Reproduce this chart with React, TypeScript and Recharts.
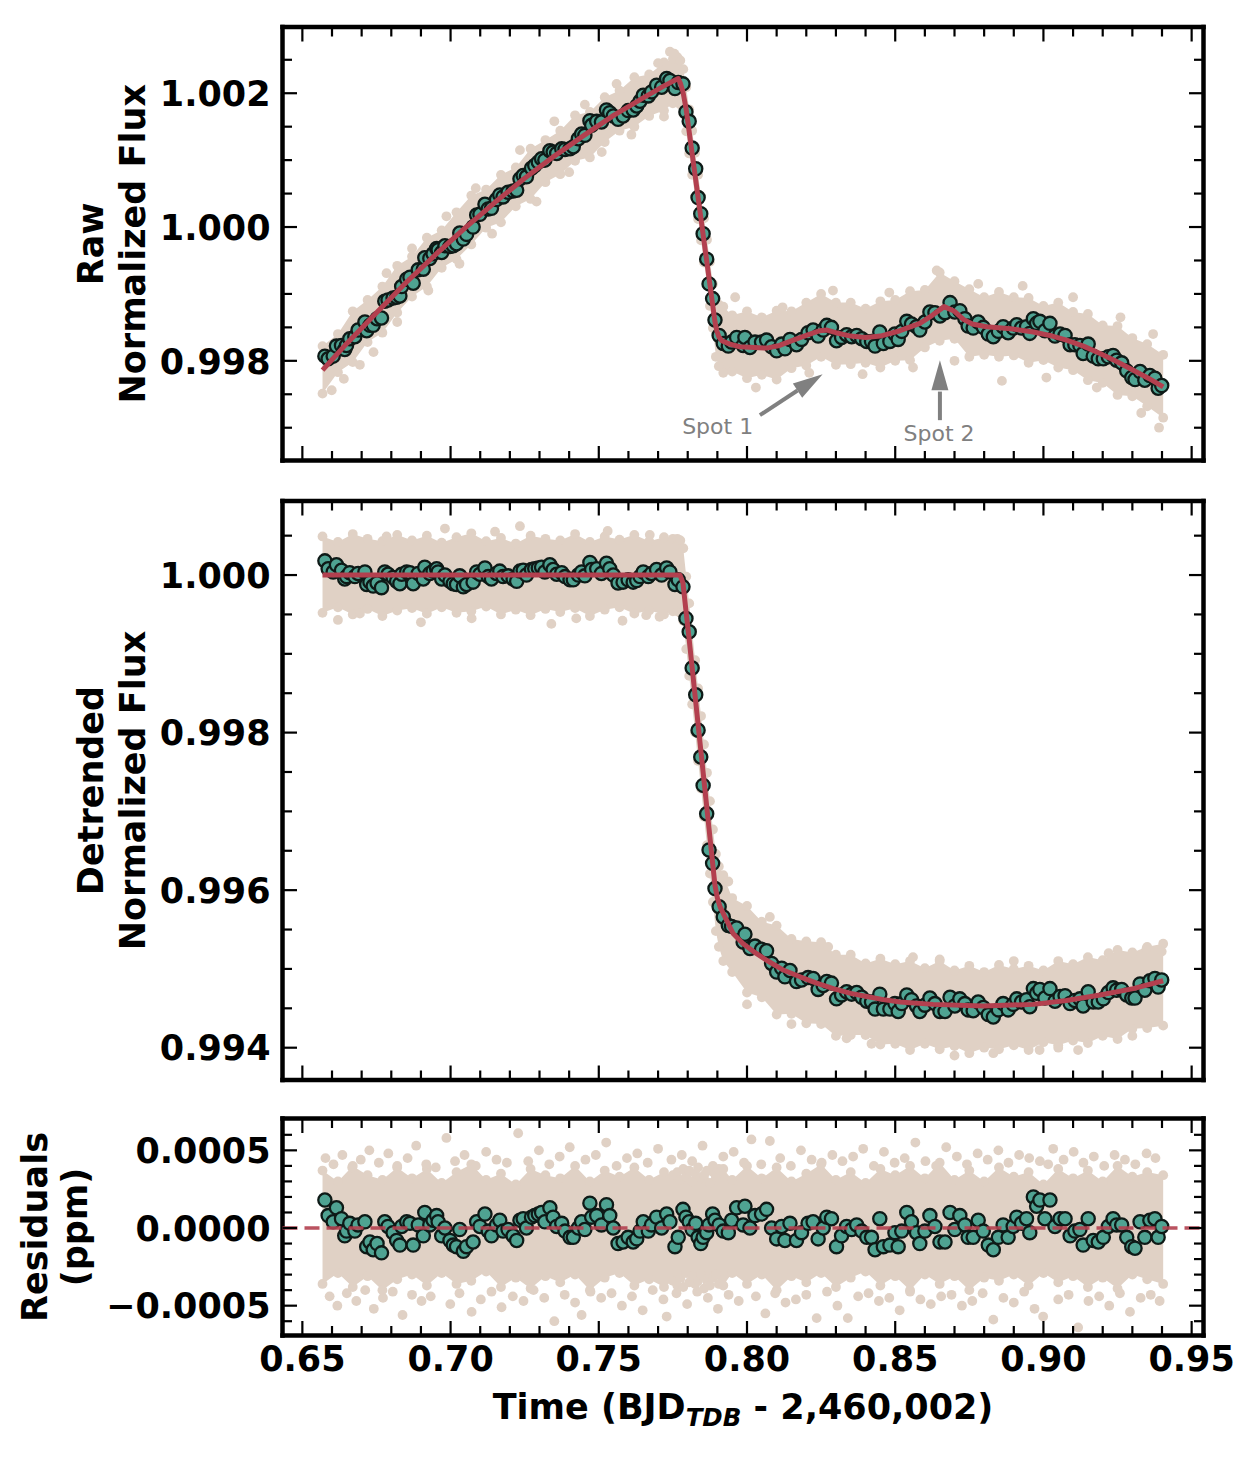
import React from 'react';
import { ComposedChart, XAxis, YAxis, Scatter, Line, Area, ReferenceLine, ReferenceDot } from 'recharts';

const FONT = '"DejaVu Sans", Verdana, sans-serif';
const BEIGE = '#e0d1c5';
const TEAL = '#4fa392';
const EDGE = '#0e1a17';
const RED = '#b3404f';
const GREY = '#808080';

// ---------- axes ----------
const X_DOMAIN: [number, number] = [0.6433, 0.954];
const xMajor = [0.65, 0.7, 0.75, 0.8, 0.85, 0.9, 0.95];
const xMinor = [0.66, 0.67, 0.68, 0.69, 0.71, 0.72, 0.73, 0.74, 0.76, 0.77, 0.78, 0.79, 0.81, 0.82, 0.83, 0.84, 0.86, 0.87, 0.88, 0.89, 0.91, 0.92, 0.93, 0.94];

const topDomain: [number, number] = [0.99651, 1.00299];
const topMajor = [0.998, 1.0, 1.002];
const topMinor = [0.997, 0.9975, 0.9985, 0.999, 0.9995, 1.0005, 1.001, 1.0015, 1.0025];

const midDomain: [number, number] = [0.99359, 1.00094];
const midMajor = [0.994, 0.996, 0.998, 1.0];
const midMinor = [0.9945, 0.995, 0.9955, 0.9965, 0.997, 0.9975, 0.9985, 0.999, 0.9995, 1.0005];

const resDomain: [number, number] = [-0.000692, 0.000705];
const resMajor = [-0.0005, 0, 0.0005];
const resMinor = [-0.0006, -0.0004, -0.0003, -0.0002, -0.0001, 0.0001, 0.0002, 0.0003, 0.0004, 0.0006];

// ---------- binned (teal) data ----------
const tealT = [
  0.6576, 0.6587, 0.6604, 0.6615, 0.6632, 0.6643, 0.6649, 0.666, 0.6677, 0.6688,
  0.6711, 0.6717, 0.6728, 0.6739, 0.6752, 0.6767, 0.6778, 0.6789, 0.6806, 0.6818,
  0.6829, 0.6835, 0.6852, 0.6863, 0.6874, 0.6891, 0.6908, 0.6913, 0.693, 0.6941,
  0.6953, 0.6958, 0.697, 0.6981, 0.6998, 0.7009, 0.702, 0.7031, 0.7043, 0.7054,
  0.7076, 0.7088, 0.7099, 0.7116, 0.7127, 0.7138, 0.7155, 0.7166, 0.7177, 0.7194,
  0.7211, 0.7223, 0.7234, 0.7245, 0.7256, 0.7273, 0.7284, 0.7296, 0.7307, 0.7318,
  0.7335, 0.7346, 0.7358, 0.7375, 0.7386, 0.7403, 0.7414, 0.7431, 0.7442, 0.7453,
  0.747, 0.7476, 0.7493, 0.7509, 0.7526, 0.7537, 0.7549, 0.7565, 0.7582, 0.7599,
  0.7616, 0.7628, 0.7639, 0.765, 0.7667, 0.7678, 0.7695, 0.7712, 0.7729, 0.774,
  0.7757, 0.7768, 0.7784, 0.7794, 0.7805, 0.7815, 0.7827, 0.7835, 0.7844, 0.7852,
  0.7864, 0.7872, 0.7884, 0.7892, 0.7906, 0.792, 0.7937, 0.7948, 0.7965, 0.7987,
  0.7993, 0.801, 0.8027, 0.8049, 0.8066, 0.8083, 0.81, 0.8117, 0.8128, 0.8145,
  0.8167, 0.8184, 0.8206, 0.8223, 0.824, 0.8257, 0.8269, 0.8285, 0.8302, 0.8319,
  0.8336, 0.8353, 0.837, 0.8387, 0.8404, 0.842, 0.8432, 0.8448, 0.846, 0.8482,
  0.8499, 0.851, 0.8522, 0.8539, 0.8555, 0.8572, 0.8583, 0.86, 0.8617, 0.8634,
  0.8651, 0.8668, 0.8685, 0.8701, 0.8718, 0.8735, 0.8746, 0.8763, 0.878, 0.8797,
  0.8814, 0.8831, 0.8848, 0.8864, 0.8881, 0.8898, 0.891, 0.8926, 0.8943, 0.8954,
  0.8966, 0.8977, 0.8988, 0.9005, 0.9022, 0.9039, 0.9056, 0.9073, 0.909, 0.9106,
  0.9123, 0.9134, 0.9151, 0.9168, 0.9185, 0.9202, 0.9219, 0.9235, 0.9247, 0.9264,
  0.9281, 0.9298, 0.9309, 0.9326, 0.9342, 0.9359, 0.9376, 0.9387, 0.9399,
];

const tealRaw = [
  0.99807, 0.99803, 0.99807, 0.99822, 0.99823, 0.99817, 0.99823, 0.99833, 0.99836, 0.99846,
  0.99858, 0.99845, 0.99853, 0.99853, 0.99863, 0.99864, 0.99889, 0.99891, 0.99894, 0.99895,
  0.99897, 0.99911, 0.99922, 0.99925, 0.99916, 0.99936, 0.99937, 0.99954, 0.99953, 0.9996,
  0.99968, 0.99966, 0.99962, 0.99972, 0.99971, 0.99972, 0.99975, 0.99991, 0.99982, 0.99989,
  1.0, 1.00018, 1.00019, 1.00034, 1.00027, 1.00028, 1.00041, 1.00048, 1.00045, 1.00052,
  1.00054, 1.00055, 1.00072, 1.00077, 1.00075, 1.00088, 1.00092, 1.00097, 1.00102, 1.001,
  1.00114, 1.00112, 1.0011, 1.00117, 1.00116, 1.00117, 1.0012, 1.00132, 1.00139, 1.00137,
  1.00159, 1.00152, 1.00158, 1.00157, 1.00175, 1.00171, 1.00166, 1.00161, 1.00166, 1.00174,
  1.00175, 1.00181, 1.00188, 1.00197, 1.00196, 1.00202, 1.00212, 1.00209, 1.00222, 1.00219,
  1.00207, 1.00216, 1.00214, 1.00172, 1.00158, 1.00118, 1.00087, 1.00044, 1.0002, 0.9999,
  0.99952, 0.99915, 0.99893, 0.99861, 0.99838, 0.99826, 0.99822, 0.99828, 0.99835, 0.99823,
  0.99835, 0.9982, 0.99828, 0.99828, 0.99831, 0.99821, 0.99815, 0.99825, 0.99818, 0.99832,
  0.99824, 0.99832, 0.99842, 0.99846, 0.99837, 0.99846, 0.99853, 0.9985, 0.9983, 0.99835,
  0.99839, 0.99836, 0.99838, 0.99833, 0.99829, 0.99829, 0.99822, 0.99843, 0.99826, 0.99829,
  0.9984, 0.99832, 0.99844, 0.99859, 0.99855, 0.99851, 0.99846, 0.99858, 0.99873, 0.99872,
  0.99867, 0.99872, 0.99887, 0.99873, 0.99875, 0.99863, 0.99852, 0.99849, 0.99858, 0.9985,
  0.9984, 0.99836, 0.99844, 0.99851, 0.99842, 0.99849, 0.99854, 0.99849, 0.99851, 0.99841,
  0.99863, 0.99856, 0.99859, 0.99845, 0.99856, 0.99837, 0.9984, 0.99838, 0.99824, 0.99824,
  0.99823, 0.99811, 0.99825, 0.99807, 0.99803, 0.99803, 0.99806, 0.99808, 0.99801, 0.99797,
  0.99785, 0.99775, 0.99772, 0.99784, 0.99771, 0.99778, 0.99774, 0.99759, 0.99763,
];

const tealDet = [
  1.00018, 1.00008, 1.00004, 1.00013, 1.00006, 0.99995, 0.99998, 1.00003, 0.99998, 1.00002,
  1.00004, 0.99988, 0.99991, 0.99986, 0.9999, 0.99984, 1.00004, 1.00001, 0.99997, 0.99992,
  0.99989, 1.00001, 1.00004, 1.00003, 0.99989, 1.00002, 0.99995, 1.0001, 1.00002, 1.00005,
  1.00008, 1.00004, 0.99995, 1.0, 0.99992, 0.99989, 0.99988, 0.99999, 0.99985, 0.99988,
  0.99991, 1.00004, 1.00001, 1.00009, 0.99998, 0.99995, 1.00002, 1.00005, 0.99998, 0.99999,
  0.99995, 0.99992, 1.00005, 1.00006, 1.0, 1.00007, 1.00008, 1.00009, 1.0001, 1.00004,
  1.00013, 1.00007, 1.00001, 1.00003, 0.99998, 0.99994, 0.99994, 1.0, 1.00004, 0.99999,
  1.00016, 1.00007, 1.00008, 1.00002, 1.00015, 1.00008, 1.0, 0.9999, 0.99991, 0.99994,
  0.99991, 0.99993, 0.99998, 1.00004, 0.99998, 1.00002, 1.00007, 1.0, 1.00009, 1.00004,
  0.99988, 0.99994, 0.99985, 0.99945, 0.99928, 0.99882, 0.99848, 0.99803, 0.99769, 0.99733,
  0.99697, 0.99651, 0.99634, 0.99602, 0.99579, 0.99566, 0.99555, 0.99554, 0.99552, 0.99534,
  0.99544, 0.99526, 0.99529, 0.99525, 0.99523, 0.99507, 0.99496, 0.99501, 0.9949, 0.99498,
  0.99484, 0.99486, 0.99489, 0.99488, 0.99474, 0.99479, 0.99484, 0.99482, 0.99462, 0.99467,
  0.99471, 0.99468, 0.9947, 0.99464, 0.99459, 0.99458, 0.99449, 0.99468, 0.99449, 0.99449,
  0.99456, 0.99446, 0.99456, 0.99467, 0.99461, 0.99453, 0.99446, 0.99454, 0.99463, 0.99456,
  0.99446, 0.99446, 0.99464, 0.99453, 0.99462, 0.99456, 0.99448, 0.99447, 0.99458, 0.99451,
  0.99442, 0.99439, 0.99448, 0.99456, 0.99448, 0.99455, 0.99462, 0.99458, 0.99461, 0.99452,
  0.99475, 0.99469, 0.99474, 0.99463, 0.99475, 0.99459, 0.99465, 0.99466, 0.99456, 0.9946,
  0.99462, 0.99453, 0.99471, 0.99458, 0.99458, 0.99462, 0.9947, 0.99476, 0.99473, 0.99474,
  0.99467, 0.99463, 0.99463, 0.99481, 0.99473, 0.99485, 0.99488, 0.99477, 0.99486,
];

const tealRes = [
  0.00018, 0.00008, 0.00004, 0.00013, 0.00006, -0.00005, -0.00002, 0.00003, -0.00002, 0.00002,
  0.00004, -0.00012, -0.00009, -0.00014, -0.0001, -0.00016, 0.00004, 0.00001, -0.00003, -0.00008,
  -0.00011, 0.00001, 0.00004, 0.00003, -0.00011, 0.00002, -0.00005, 0.0001, 0.00002, 0.00005,
  0.00008, 0.00004, -0.00005, 0.0, -0.00008, -0.00011, -0.00012, -0.00001, -0.00015, -0.00012,
  -0.00009, 0.00004, 0.00001, 0.00009, -0.00002, -0.00005, 0.00002, 0.00005, -0.00002, -0.00001,
  -0.00005, -0.00008, 0.00005, 0.00006, 0.0, 0.00007, 0.00008, 0.00009, 0.0001, 0.00004,
  0.00013, 0.00007, 0.00001, 0.00003, -0.00002, -0.00006, -0.00006, 0.0, 0.00004, -0.00001,
  0.00016, 0.00007, 0.00008, 0.00002, 0.00015, 0.00008, 0.0, -0.0001, -0.00009, -0.00006,
  -0.00009, -0.00007, -0.00002, 0.00004, -0.00002, 0.00002, 0.00007, 0.0, 0.00009, 0.00004,
  -0.00012, -0.00006, 0.00012, 0.00007, 0.00004, -0.00001, 0.00003, -0.00006, -0.0001, -0.00006,
  -0.00003, 0.00002, 0.00009, 0.00005, 0.00002, -0.00002, -0.00003, 0.00005, 0.00013, 0.00002,
  0.00014, 0.0, 0.00008, 0.00009, 0.00012, 0.0, -0.00007, 0.00001, -0.00008, 0.00003,
  -0.00008, -0.00003, 0.00003, 0.00004, -0.00007, 0.0, 0.00007, 0.00006, -0.00012, -0.00005,
  0.00001, -0.00001, 0.00002, -0.00002, -0.00006, -0.00006, -0.00014, 0.00006, -0.00012, -0.00011,
  -0.00003, -0.00012, -0.00002, 0.0001, 0.00004, -0.00003, -0.0001, -0.00002, 0.00008, 0.00001,
  -0.00009, -0.00009, 0.0001, -0.00001, 0.00008, 0.00002, -0.00006, -0.00006, 0.00005, -0.00002,
  -0.00011, -0.00014, -0.00006, 0.00002, -0.00006, 0.00001, 0.00007, 0.00003, 0.00006, -0.00003,
  0.0002, 0.00014, 0.00018, 0.00006, 0.00018, 0.00001, 0.00006, 0.00006, -0.00005, -0.00002,
  -0.00001, -0.00011, 0.00006, -0.00008, -0.00009, -0.00006, 0.00001, 0.00006, 0.00002, 0.00002,
  -0.00006, -0.00012, -0.00013, 0.00004, -0.00006, 0.00005, 0.00006, -0.00006, 0.00001,
];

// ---------- unbinned (beige) cloud: envelope ----------
const bandT = [
  0.6568, 0.662, 0.667, 0.672, 0.677, 0.682, 0.687, 0.692, 0.697, 0.702,
  0.707, 0.712, 0.717, 0.722, 0.727, 0.732, 0.737, 0.742, 0.747, 0.752,
  0.757, 0.762, 0.767, 0.772, 0.775,
  0.7765, 0.7775, 0.7785, 0.7795, 0.7805, 0.7815, 0.7825, 0.7835, 0.7845, 0.7855, 0.7865, 0.7875, 0.7885, 0.7895, 0.7905,
  0.792, 0.795, 0.8, 0.805, 0.81, 0.815, 0.82, 0.825, 0.83, 0.835,
  0.84, 0.845, 0.85, 0.855, 0.86, 0.865, 0.87, 0.875, 0.88, 0.885,
  0.89, 0.895, 0.9, 0.905, 0.91, 0.915, 0.92, 0.925, 0.93, 0.935, 0.9404,
];

const topHi = [
  0.99822, 0.9984, 0.99874, 0.99891, 0.99911, 0.99942, 0.99956, 0.99984, 0.99995, 1.00022,
  1.00047, 1.00056, 1.00078, 1.00089, 1.00117, 1.0013, 1.00144, 1.00167, 1.00172, 1.00194,
  1.00204, 1.00224, 1.00228, 1.00246, 1.00251,
  1.00254, 1.00249, 1.00236, 1.00209, 1.00176, 1.00144, 1.00111, 1.00078, 1.00046, 1.00013, 0.99981, 0.99948, 0.99915, 0.9989, 0.99884,
  0.99881, 0.99868, 0.99874, 0.99865, 0.99875, 0.99874, 0.99887, 0.999, 0.99887, 0.99887,
  0.99878, 0.99889, 0.99891, 0.99904, 0.99906, 0.99932, 0.99919, 0.99907, 0.99895, 0.99903,
  0.99895, 0.99894, 0.99882, 0.99887, 0.99873, 0.9987, 0.99853, 0.99852, 0.99834, 0.99825, 0.99809,
];
const topLo = [
  0.99751, 0.99783, 0.99798, 0.99828, 0.99842, 0.99872, 0.99896, 0.99911, 0.99939, 0.99952,
  0.99974, 0.99999, 1.00007, 1.00031, 1.00042, 1.00067, 1.00079, 1.00099, 1.00104, 1.00127,
  1.00144, 1.0015, 1.00166, 1.00174, 1.00185,
  1.00188, 1.00183, 1.0017, 1.00143, 1.0011, 1.00078, 1.00045, 1.00012, 0.9998, 0.99947, 0.99915, 0.99882, 0.99849, 0.99806, 0.99792,
  0.99782, 0.99784, 0.99774, 0.99779, 0.99772, 0.99789, 0.99793, 0.99806, 0.99794, 0.99795,
  0.99797, 0.9979, 0.998, 0.99801, 0.9982, 0.9983, 0.99833, 0.99806, 0.99809, 0.99806,
  0.99808, 0.99797, 0.99801, 0.9979, 0.99786, 0.99771, 0.99767, 0.99749, 0.99747, 0.99732, 0.99715,
];

const midHi = [
  1.00049, 1.00042, 1.00052, 1.00046, 1.00043, 1.00051, 1.00044, 1.0005, 1.00041, 1.00048,
  1.00053, 1.00043, 1.00047, 1.0004, 1.0005, 1.00046, 1.00044, 1.00052, 1.00042, 1.00049,
  1.00045, 1.00051, 1.00043, 1.00048, 1.00046,
  1.00046, 1.00044, 1.00034, 0.99998, 0.99964, 0.99928, 0.99892, 0.99856, 0.99821, 0.99785, 0.99749, 0.99713, 0.99677, 0.99646, 0.9963,
  0.99619, 0.9959, 0.9958, 0.9956, 0.99555, 0.99538, 0.99535, 0.99534, 0.99518, 0.99518,
  0.99507, 0.99513, 0.99506, 0.9951, 0.99501, 0.9951, 0.99498, 0.99504, 0.99496, 0.99505,
  0.995, 0.99504, 0.99498, 0.9951, 0.99506, 0.99515, 0.99511, 0.99524, 0.99521, 0.99528, 0.99532,
];
const midLo = [
  0.99952, 0.99959, 0.9995, 0.99957, 0.99948, 0.99955, 0.99958, 0.99951, 0.99959, 0.99952,
  0.99954, 0.9996, 0.9995, 0.99956, 0.99949, 0.99957, 0.99953, 0.99958, 0.99948, 0.99956,
  0.99959, 0.99951, 0.99955, 0.9995, 0.99954,
  0.99954, 0.99952, 0.99942, 0.99906, 0.99872, 0.99836, 0.998, 0.99764, 0.99729, 0.99693, 0.99657, 0.99621, 0.99585, 0.99548, 0.99528,
  0.9951, 0.99496, 0.9947, 0.99464, 0.99442, 0.99443, 0.99431, 0.9943, 0.99415, 0.99416,
  0.99416, 0.99404, 0.99405, 0.99397, 0.99405, 0.99398, 0.99402, 0.99393, 0.994, 0.99398,
  0.99403, 0.99397, 0.99407, 0.99403, 0.99409, 0.99406, 0.99415, 0.99411, 0.99424, 0.99425, 0.99428,
];

const resHi = [
  0.00037, 0.0003, 0.0004, 0.00034, 0.00031, 0.00039, 0.00032, 0.00038, 0.00029, 0.00036,
  0.00041, 0.00031, 0.00035, 0.00028, 0.00038, 0.00034, 0.00032, 0.0004, 0.0003, 0.00037,
  0.00033, 0.00039, 0.00031, 0.00036, 0.00034,
  0.00036, 0.00031, 0.00038, 0.00033, 0.00037, 0.0003, 0.00035, 0.00039, 0.00032, 0.00034, 0.00037, 0.00029, 0.00036, 0.00033, 0.00038,
  0.00038, 0.00031, 0.0004, 0.00032, 0.00039, 0.0003, 0.00035, 0.00041, 0.00031, 0.00036,
  0.00029, 0.00038, 0.00034, 0.0004, 0.00032, 0.00042, 0.00031, 0.00037, 0.0003, 0.00039,
  0.00033, 0.00036, 0.00028, 0.00038, 0.00032, 0.00037, 0.0003, 0.0004, 0.00033, 0.00036, 0.00034,
];
const resLo = [
  -0.00036, -0.00029, -0.00038, -0.00031, -0.0004, -0.00033, -0.0003, -0.00037, -0.00029, -0.00036,
  -0.00034, -0.00028, -0.00038, -0.00032, -0.00039, -0.00031, -0.00035, -0.0003, -0.0004, -0.00032,
  -0.00029, -0.00037, -0.00033, -0.00038, -0.00034,
  -0.00037, -0.00032, -0.00038, -0.00029, -0.00035, -0.00031, -0.00036, -0.00034, -0.0003, -0.00039, -0.00033, -0.00037, -0.00032, -0.0003, -0.00036,
  -0.00037, -0.00029, -0.00036, -0.0003, -0.0004, -0.00031, -0.00035, -0.00029, -0.00038, -0.00032,
  -0.00028, -0.00037, -0.00031, -0.0004, -0.0003, -0.00036, -0.00031, -0.0004, -0.00032, -0.00034,
  -0.0003, -0.00037, -0.00029, -0.00035, -0.00031, -0.00038, -0.00032, -0.00039, -0.0003, -0.00033, -0.00036,
];

// scattered beige points beyond the dense cloud
const topOutT = [0.6599, 0.664, 0.6694, 0.674, 0.6784, 0.682, 0.687, 0.6925, 0.6986, 0.703, 0.7085, 0.714, 0.7234, 0.729, 0.735, 0.74, 0.7453, 0.751, 0.756, 0.761, 0.77, 0.774, 0.7755, 0.772, 0.796, 0.803, 0.812, 0.821, 0.829, 0.839, 0.848, 0.856, 0.864, 0.87, 0.878, 0.886, 0.893, 0.901, 0.91, 0.918, 0.926, 0.933, 0.939, 0.937];
const topOutF = [0.99756, 0.99773, 0.99794, 0.99813, 0.99931, 0.99858, 0.99968, 0.99905, 1.00016, 0.99945, 1.00058, 0.9999, 1.00115, 1.00038, 1.00158, 1.00082, 1.00183, 1.00112, 1.00214, 1.00138, 1.00245, 1.00262, 1.00259, 1.00165, 0.99895, 0.9976, 0.9988, 0.99782, 0.99905, 0.9978, 0.99902, 0.9979, 0.99935, 0.998, 0.99915, 0.9977, 0.99912, 0.99775, 0.99895, 0.9976, 0.99865, 0.99722, 0.997, 0.9984];

const midOutT = [0.6784, 0.6981, 0.7234, 0.7071, 0.7424, 0.6694, 0.7672, 0.766, 0.7705, 0.662, 0.69, 0.715, 0.734, 0.753, 0.758, 0.8831, 0.8987, 0.9117, 0.8336, 0.842, 0.9348, 0.9399, 0.7937, 0.8077, 0.8274, 0.815, 0.856, 0.87, 0.89, 0.905, 0.922, 0.93, 0.8, 0.865];
const midOutF = [1.00049, 1.00059, 1.00062, 0.99945, 0.99945, 0.99951, 1.00051, 0.99949, 0.99947, 0.99943, 0.9994, 1.00055, 0.99938, 1.00056, 0.99942, 0.99393, 0.99397, 0.99397, 0.99412, 0.99405, 0.99526, 0.99522, 0.99611, 0.99566, 0.99528, 0.9943, 0.99515, 0.9939, 0.9951, 0.994, 0.9952, 0.99415, 0.99455, 0.99512];

const resOutT = [
  0.6578, 0.6592, 0.6605, 0.6618, 0.6635, 0.665, 0.6668, 0.6682, 0.6697, 0.6712, 0.6726, 0.6741, 0.6758, 0.6772, 0.679, 0.6805, 0.682, 0.6838, 0.6855, 0.687,
  0.6884, 0.6902, 0.6918, 0.6933, 0.695, 0.6986, 0.6999, 0.7015, 0.703, 0.7047, 0.7071, 0.7085, 0.7102, 0.712, 0.7138, 0.7155, 0.7172, 0.719, 0.721, 0.7228,
  0.7246, 0.7262, 0.728, 0.7298, 0.7316, 0.7333, 0.735, 0.7368, 0.7385, 0.7402, 0.742, 0.7442, 0.7455, 0.7472, 0.749, 0.7508, 0.7525, 0.7543, 0.756, 0.7578,
  0.7595, 0.7612, 0.763, 0.7648, 0.7665, 0.7682, 0.77, 0.7718, 0.7729, 0.7745, 0.7762, 0.778, 0.7798, 0.7815, 0.7832, 0.785, 0.7868, 0.7885, 0.7902, 0.792,
  0.7938, 0.7955, 0.7972, 0.799, 0.8015, 0.803, 0.8048, 0.8062, 0.8077, 0.8095, 0.8112, 0.813, 0.8148, 0.8165, 0.8182, 0.82, 0.8218, 0.8235, 0.8252, 0.827,
  0.8288, 0.8305, 0.8322, 0.834, 0.8358, 0.8375, 0.8392, 0.841, 0.8428, 0.8445, 0.8462, 0.848, 0.8498, 0.8515, 0.8532, 0.855, 0.8568, 0.8585, 0.8602, 0.862,
  0.8638, 0.8655, 0.8672, 0.869, 0.8708, 0.8725, 0.8742, 0.876, 0.8778, 0.8795, 0.8812, 0.8831, 0.8848, 0.8865, 0.8882, 0.89, 0.8918, 0.8935, 0.8952, 0.897,
  0.8988, 0.8999, 0.9016, 0.9033, 0.905, 0.9068, 0.9085, 0.9102, 0.9117, 0.9135, 0.9152, 0.917, 0.9188, 0.9205, 0.9222, 0.924, 0.9258, 0.9275, 0.9292, 0.931,
  0.9328, 0.9348, 0.9362, 0.9378, 0.9392,
];
const resOutV = [
  0.00045, -0.00044, 0.00041, -0.0005, 0.00047, -0.00042, 0.00039, -0.00047, 0.00044, -0.0004, 0.0005, -0.00052, 0.00042, -0.00045, 0.00048, -0.00041, 0.0004, -0.00056, 0.00045, -0.00043,
  0.00053, -0.00047, 0.00041, -0.00044, 0.00039, 0.00058, -0.00049, 0.00043, -0.00042, 0.00047, -0.00054, 0.0004, -0.00046, 0.00049, -0.00041, 0.00044, -0.00051, 0.00042, -0.00044, 0.00061,
  -0.00047, 0.00043, -0.0004, 0.0005, -0.00045, 0.00041, -0.0006, 0.00046, -0.00043, 0.00052, -0.00048, -0.00056, 0.00044, -0.00041, 0.00047, -0.00045, 0.00055, -0.00042, 0.0004, -0.0005,
  0.00045, -0.00044, 0.00048, -0.00053, 0.00042, -0.0004, 0.00051, -0.00046, -0.00057, 0.00044, -0.00042, 0.00047, -0.00049, 0.00043, -0.00041, 0.00053, -0.00045, 0.0004, -0.00052, 0.00046,
  -0.00043, 0.00049, -0.00047, 0.00042, 0.00057, -0.00044, 0.00041, -0.00055, 0.00056, -0.00042, 0.00045, -0.00048, 0.0004, -0.00046, 0.0005, -0.00043, 0.00044, -0.00058, 0.00042, -0.00041,
  0.00047, -0.0005, 0.00043, -0.00058, 0.00046, -0.00044, 0.00051, -0.00042, 0.0004, -0.00047, 0.00049, -0.00045, 0.00042, -0.00053, 0.00045, -0.00041, 0.00055, -0.00046, 0.00043, -0.00049,
  0.0004, -0.00044, 0.00052, -0.00043, 0.00046, -0.0005, 0.00041, -0.00047, 0.00048, -0.00042, 0.00044, -0.00059, 0.0005, -0.00045, 0.00042, -0.00048, 0.00047, -0.00041, 0.00045, -0.00052,
  0.00043, -0.00057, 0.00041, 0.00051, -0.00046, 0.00044, -0.00043, 0.00049, -0.00064, 0.00042, -0.00047, 0.00046, -0.00044, 0.0004, -0.0005, 0.00047, -0.00042, 0.00044, -0.00054, 0.00041,
  -0.00045, 0.00048, -0.00043, 0.00045, -0.00047,
];

// ---------- transit + systematics models ----------
const modelTopT = [0.6568, 0.665, 0.675, 0.685, 0.695, 0.705, 0.715, 0.725, 0.735, 0.745, 0.755, 0.765, 0.772, 0.7768, 0.7776, 0.7784, 0.7794, 0.7892, 0.7898, 0.7905, 0.7915, 0.7942, 0.7976, 0.8066, 0.811, 0.8156, 0.82, 0.8246, 0.827, 0.83, 0.835, 0.84, 0.845, 0.8516, 0.8583, 0.8625, 0.8665, 0.87, 0.873, 0.876, 0.8808, 0.889, 0.8966, 0.903, 0.9078, 0.9135, 0.9191, 0.9247, 0.9303, 0.9354, 0.9404];
const modelTopF = [0.99786, 0.99826, 0.99872, 0.99917, 0.99959, 0.99999, 1.00037, 1.00073, 1.00106, 1.00137, 1.00167, 1.00193, 1.00211, 1.00222, 1.00214, 1.00202, 1.00178, 0.99858, 0.99845, 0.99836, 0.9983, 0.99825, 0.99821, 0.99819, 0.99823, 0.99831, 0.99838, 0.99845, 0.99846, 0.99842, 0.99837, 0.99835, 0.99837, 0.99845, 0.99856, 0.99868, 0.99881, 0.99874, 0.99862, 0.99855, 0.99851, 0.99848, 0.99843, 0.99837, 0.99831, 0.99822, 0.99811, 0.99799, 0.99786, 0.99774, 0.99761];

const modelMidT = [0.6568, 0.7774, 0.7784, 0.7794, 0.7805, 0.7892, 0.79, 0.791, 0.7931, 0.7953, 0.7987, 0.803, 0.8066, 0.812, 0.8179, 0.8235, 0.8291, 0.835, 0.8404, 0.846, 0.8516, 0.8628, 0.8797, 0.8966, 0.9078, 0.9191, 0.9303, 0.9404];
const modelMidF = [1.0, 1.0, 0.9999, 0.99955, 0.99918, 0.99606, 0.9959, 0.99578, 0.99562, 0.99545, 0.99532, 0.9952, 0.99511, 0.99499, 0.9949, 0.99482, 0.99475, 0.99469, 0.99465, 0.99461, 0.99458, 0.99455, 0.99453, 0.99455, 0.9946, 0.99467, 0.99475, 0.99485];

// ---------- helpers ----------
type Pt = { t: number; f: number };
const pts = (ts: number[], fs: number[]): Pt[] => ts.map((t, i) => ({ t, f: fs[i] }));
const bandRows = (lo: number[], hi: number[]) => bandT.map((t, i) => ({ t, band: [lo[i], hi[i]] }));

const isIn = (list: number[], v: number) => list.some((m) => Math.abs(m - v) < 1e-9);

const MAJOR_LEN = 14.5;
const MINOR_LEN = 9.5;
const LABEL_SIZE = 35;

function makeTick(side: 'left' | 'right' | 'top' | 'bottom', majors: number[], fmt: ((v: number) => string) | null) {
  return (props: any) => {
    const { x, y, payload } = props;
    const v = payload.value as number;
    const major = isIn(majors, v);
    const len = major ? MAJOR_LEN : MINOR_LEN;
    let x2 = x;
    let y2 = y;
    if (side === 'left') x2 = x + len;
    if (side === 'right') x2 = x - len;
    if (side === 'top') y2 = y + len;
    if (side === 'bottom') y2 = y - len;
    let label: React.ReactNode = null;
    if (fmt && major) {
      if (side === 'left') {
        label = (
          <text x={x - 12} y={y + 12.7} textAnchor="end" fontFamily={FONT} fontWeight="bold" fontSize={LABEL_SIZE} fill="#000">
            {fmt(v)}
          </text>
        );
      } else if (side === 'bottom') {
        label = (
          <text x={x} y={y + 35} textAnchor="middle" fontFamily={FONT} fontWeight="bold" fontSize={LABEL_SIZE} fill="#000">
            {fmt(v)}
          </text>
        );
      }
    }
    return (
      <g>
        <line x1={x} y1={y} x2={x2} y2={y2} stroke="#000" strokeWidth={2.2} />
        {label}
      </g>
    );
  };
}

const fmt3 = (v: number) => v.toFixed(3);
const fmtX = (v: number) => v.toFixed(2);
const fmtRes = (v: number) => (Math.abs(v) < 1e-12 ? '0.0000' : (v < 0 ? '\u2212' : '') + Math.abs(v).toFixed(4));

const SPINE = { stroke: '#000', strokeWidth: 4.5, strokeLinecap: 'square' as const };

const BeigeDot = (p: any) => <circle cx={p.cx} cy={p.cy} r={4.9} fill={BEIGE} />;
const TealDot = (p: any) => <circle cx={p.cx} cy={p.cy} r={6.6} fill={TEAL} stroke={EDGE} strokeWidth={2.3} />;

const arrowHead = (angle: number) => (p: any) => (
  <path d="M0,0 L-30,-8.5 L-30,8.5 Z" fill={GREY} transform={`translate(${p.cx},${p.cy}) rotate(${angle})`} />
);
const spotText = (label: string) => (p: any) => (
  <text x={p.cx} y={p.cy} textAnchor="middle" fontFamily={FONT} fontSize={22} fill={GREY}>
    {label}
  </text>
);

const xTicks = [...xMajor, ...xMinor].sort((a, b) => a - b);

// plot area edges (px) shared by all panels; axes are 1px wide/high
const PLOT_LEFT = 282.5;
const PLOT_RIGHT = 1203.5;
const AX = 1;

type PanelProps = {
  top: number;
  height: number;
  plotTop: number;
  plotBottom: number;
  yDomain: [number, number];
  yMajor: number[];
  yMinor: number[];
  yFmt: (v: number) => string;
  xLabels: boolean;
  band: any[];
  beige: Pt[];
  teal: Pt[];
  model?: Pt[];
  zero?: boolean;
  children?: React.ReactNode;
};

function Panel(p: PanelProps) {
  const yTicks = [...p.yMajor, ...p.yMinor].sort((a, b) => a - b);
  const margin = {
    top: p.plotTop - p.top - AX,
    bottom: p.top + p.height - p.plotBottom - AX,
    left: PLOT_LEFT - AX,
    right: 1260 - PLOT_RIGHT - AX,
  };
  return (
    <div style={{ position: 'absolute', left: 0, top: p.top, width: 1260, height: p.height }}>
      <ComposedChart width={1260} height={p.height} data={p.band} margin={margin}>
        <Area xAxisId="b" yAxisId="l" dataKey="band" type="linear" stroke="none" fill={BEIGE} fillOpacity={1}
          isAnimationActive={false} dot={false} activeDot={false} />
        <Scatter xAxisId="b" yAxisId="l" data={p.beige} dataKey="f" shape={BeigeDot} isAnimationActive={false} />
        <Scatter xAxisId="b" yAxisId="l" data={p.teal} dataKey="f" shape={TealDot} isAnimationActive={false} />
        {p.model && (
          <Line xAxisId="b" yAxisId="l" data={p.model} dataKey="f" type="linear" stroke={RED} strokeWidth={5}
            strokeLinejoin="round" dot={false} activeDot={false} isAnimationActive={false} zIndex={900} />
        )}
        {p.zero && (
          <ReferenceLine xAxisId="b" yAxisId="l" y={0} stroke={RED} strokeOpacity={0.9} strokeWidth={3.5}
            strokeDasharray="15 7" zIndex={900} />
        )}
        {p.children}
        <XAxis xAxisId="b" dataKey="t" type="number" domain={X_DOMAIN} allowDataOverflow ticks={xTicks} interval={0}
          height={AX} tickSize={0} tickMargin={0} axisLine={SPINE} tickLine={false}
          tick={makeTick('bottom', xMajor, p.xLabels ? fmtX : null)} />
        <XAxis xAxisId="t" orientation="top" dataKey="t" type="number" domain={X_DOMAIN} allowDataOverflow ticks={xTicks} interval={0}
          height={AX} tickSize={0} tickMargin={0} axisLine={SPINE} tickLine={false}
          tick={makeTick('top', xMajor, null)} />
        <YAxis yAxisId="l" dataKey="f" type="number" domain={p.yDomain} allowDataOverflow ticks={yTicks} interval={0}
          width={AX} tickSize={0} tickMargin={0} axisLine={SPINE} tickLine={false}
          tick={makeTick('left', p.yMajor, p.yFmt)} />
        <YAxis yAxisId="r" orientation="right" dataKey="f" type="number" domain={p.yDomain} allowDataOverflow ticks={yTicks} interval={0}
          width={AX} tickSize={0} tickMargin={0} axisLine={SPINE} tickLine={false}
          tick={makeTick('right', p.yMajor, null)} />
      </ComposedChart>
    </div>
  );
}

export default function App() {
  const topBand = bandRows(topLo, topHi);
  const midBand = bandRows(midLo, midHi);
  const resBand = bandRows(resLo, resHi);

  const topBeige = [...pts(bandT, topHi), ...pts(bandT, topLo), ...pts(topOutT, topOutF)];
  const midBeige = [...pts(bandT, midHi), ...pts(bandT, midLo), ...pts(midOutT, midOutF)];
  const resBeige = [...pts(bandT, resHi), ...pts(bandT, resLo), ...pts(resOutT, resOutV)];

  const labelStyle = { fontFamily: FONT, fontWeight: 'bold' as const, fontSize: LABEL_SIZE, fill: '#000' };

  return (
    <div style={{ position: 'absolute', left: 0, top: 0, width: 1260, height: 1460, background: '#fff' }}>
      <Panel top={0} height={480} plotTop={27} plotBottom={460.5} yDomain={topDomain} yMajor={topMajor} yMinor={topMinor}
        yFmt={fmt3} xLabels={false} band={topBand} beige={topBeige} teal={pts(tealT, tealRaw)} model={pts(modelTopT, modelTopF)}>
        <ReferenceLine xAxisId="b" yAxisId="l" segment={[{ x: 0.80436, y: 0.997188 }, { x: 0.81703, y: 0.997556 }]}
          stroke={GREY} strokeWidth={4} ifOverflow="visible" />
        <ReferenceDot xAxisId="b" yAxisId="l" x={0.82551} y={0.997801} r={0} shape={arrowHead(-33.2)} ifOverflow="visible" />
        <ReferenceLine xAxisId="b" yAxisId="l" segment={[{ x: 0.86508, y: 0.997113 }, { x: 0.86508, y: 0.99754 }]}
          stroke={GREY} strokeWidth={4} ifOverflow="visible" />
        <ReferenceDot xAxisId="b" yAxisId="l" x={0.86508} y={0.99801} r={0} shape={arrowHead(-90)} ifOverflow="visible" />
        <ReferenceDot xAxisId="b" yAxisId="l" x={0.7901} y={0.996904} r={0} shape={spotText('Spot 1')} ifOverflow="visible" />
        <ReferenceDot xAxisId="b" yAxisId="l" x={0.8648} y={0.996799} r={0} shape={spotText('Spot 2')} ifOverflow="visible" />
      </Panel>
      <Panel top={480} height={620} plotTop={501} plotBottom={1080} yDomain={midDomain} yMajor={midMajor} yMinor={midMinor}
        yFmt={fmt3} xLabels={false} band={midBand} beige={midBeige} teal={pts(tealT, tealDet)} model={pts(modelMidT, modelMidF)} />
      <Panel top={1100} height={360} plotTop={1118.5} plotBottom={1335.5} yDomain={resDomain} yMajor={resMajor} yMinor={resMinor}
        yFmt={fmtRes} xLabels={true} band={resBand} beige={resBeige} teal={pts(tealT, tealRes)} zero={true} />

      <svg width={1260} height={1460} style={{ position: 'absolute', left: 0, top: 0, pointerEvents: 'none' }}>
        <text {...labelStyle} textAnchor="middle" transform="translate(103,243.75) rotate(-90)">Raw</text>
        <text {...labelStyle} textAnchor="middle" transform="translate(145,243.75) rotate(-90)">Normalized Flux</text>
        <text {...labelStyle} textAnchor="middle" transform="translate(103,790.5) rotate(-90)">Detrended</text>
        <text {...labelStyle} textAnchor="middle" transform="translate(145,790.5) rotate(-90)">Normalized Flux</text>
        <text {...labelStyle} textAnchor="middle" transform="translate(46.7,1227) rotate(-90)">Residuals</text>
        <text {...labelStyle} textAnchor="middle" transform="translate(87,1227) rotate(-90)">(ppm)</text>
        <text {...labelStyle} x={743} y={1419} textAnchor="middle">
          Time (BJD
          <tspan fontSize={24.5} fontStyle="italic" dy={7}>TDB</tspan>
          <tspan dy={-7}> - 2,460,002)</tspan>
        </text>
      </svg>
    </div>
  );
}
